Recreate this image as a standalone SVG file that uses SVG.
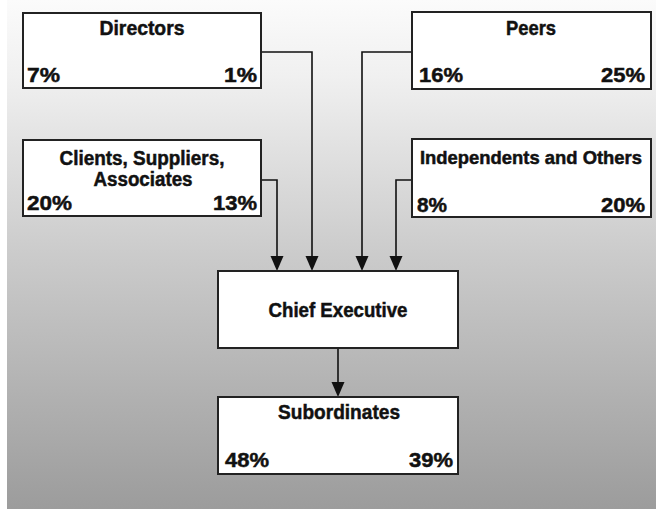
<svg xmlns="http://www.w3.org/2000/svg" width="656" height="509" viewBox="0 0 656 509">
<defs>
<linearGradient id="bg" x1="0" y1="0" x2="0" y2="1">
<stop offset="0" stop-color="#fbfbfb"/>
<stop offset="0.15" stop-color="#f0f0f0"/>
<stop offset="0.5" stop-color="#cbcbcb"/>
<stop offset="1" stop-color="#9c9c9c"/>
</linearGradient>
<style>
.box{fill:#fff;stroke:#222;stroke-width:2}
.t{font-family:"Liberation Sans",Arial,sans-serif;font-weight:bold;font-size:21px;fill:#111;stroke:#111;stroke-width:0.5}
.s{font-size:20px}
.xs{font-size:18.5px}
.m{text-anchor:middle}
.e{text-anchor:end}
.c{fill:none;stroke:#111;stroke-width:1.6}
</style>
</defs>
<rect x="0" y="0" width="656" height="509" fill="#fff"/>
<rect x="7" y="0" width="649" height="509" fill="url(#bg)"/>
<g id="connectors">
<path class="c" d="M261,52 H312 V260"/>
<path class="c" d="M261,180 H277 V260"/>
<path class="c" d="M412,52 H362 V260"/>
<path class="c" d="M412,180 H396 V260"/>
<path class="c" d="M338,348 V386"/>
<g fill="#111">
<path d="M305.5,256 L318.5,256 L312,271 Z"/>
<path d="M270.5,256 L283.5,256 L277,271 Z"/>
<path d="M355.5,256 L368.5,256 L362,271 Z"/>
<path d="M389.5,256 L402.5,256 L396,271 Z"/>
<path d="M331.5,382 L344.5,382 L338,397 Z"/>
</g>
</g>
<g id="directors">
<rect class="box" x="23" y="13" width="238" height="75"/>
<text class="t m" x="142" y="35" textLength="85" lengthAdjust="spacingAndGlyphs">Directors</text>
<text class="t" x="27" y="82" textLength="33" lengthAdjust="spacingAndGlyphs">7%</text>
<text class="t e" x="257" y="82" textLength="33" lengthAdjust="spacingAndGlyphs">1%</text>
</g>
<g id="peers">
<rect class="box" x="412" y="12" width="239" height="77"/>
<text class="t m" x="531" y="35" textLength="50" lengthAdjust="spacingAndGlyphs">Peers</text>
<text class="t" x="419" y="82" textLength="44" lengthAdjust="spacingAndGlyphs">16%</text>
<text class="t e" x="645" y="82" textLength="44" lengthAdjust="spacingAndGlyphs">25%</text>
</g>
<g id="clients">
<rect class="box" x="23" y="140" width="238" height="76"/>
<text class="t s m" x="142" y="165" textLength="165" lengthAdjust="spacingAndGlyphs">Clients, Suppliers,</text>
<text class="t s m" x="143" y="186" textLength="99" lengthAdjust="spacingAndGlyphs">Associates</text>
<text class="t" x="27" y="210" textLength="45" lengthAdjust="spacingAndGlyphs">20%</text>
<text class="t e" x="257" y="210" textLength="44" lengthAdjust="spacingAndGlyphs">13%</text>
</g>
<g id="independents">
<rect class="box" x="412" y="139" width="239" height="78"/>
<text class="t xs m" x="531" y="164" textLength="222" lengthAdjust="spacingAndGlyphs">Independents and Others</text>
<text class="t" x="417" y="212" textLength="30" lengthAdjust="spacingAndGlyphs">8%</text>
<text class="t e" x="645" y="212" textLength="44" lengthAdjust="spacingAndGlyphs">20%</text>
</g>
<g id="chief">
<rect class="box" x="218" y="271" width="240" height="77"/>
<text class="t m" x="338" y="317" textLength="139" lengthAdjust="spacingAndGlyphs">Chief Executive</text>
</g>
<g id="subordinates">
<rect class="box" x="218" y="397" width="240" height="77"/>
<text class="t m" x="339" y="419" textLength="122" lengthAdjust="spacingAndGlyphs">Subordinates</text>
<text class="t" x="225" y="467" textLength="44" lengthAdjust="spacingAndGlyphs">48%</text>
<text class="t e" x="453" y="467" textLength="44" lengthAdjust="spacingAndGlyphs">39%</text>
</g>
</svg>
